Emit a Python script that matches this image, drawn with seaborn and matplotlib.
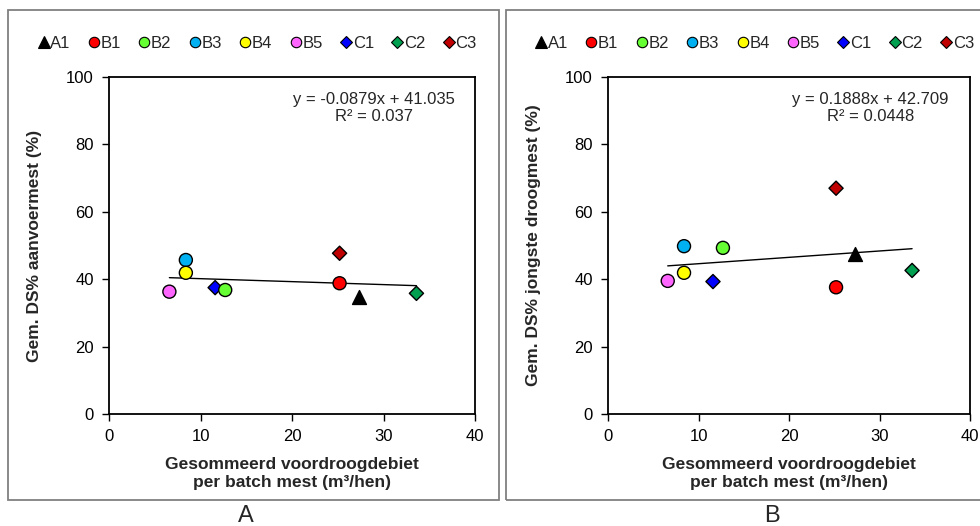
import numpy as np
import pandas as pd
import matplotlib.pyplot as plt
import seaborn as sns
from matplotlib.patches import Rectangle
from matplotlib.lines import Line2D

# data
batches = ['A1', 'B1', 'B2', 'B3', 'B4', 'B5', 'C1', 'C2', 'C3']
debiet = [27.3, 25.2, 12.7, 8.4, 8.4, 6.6, 11.6, 33.6, 25.2]
ds_aanvoer = [34.8, 38.8, 36.8, 45.7, 41.9, 36.3, 37.5, 35.8, 47.7]
ds_jongste = [47.6, 37.6, 49.3, 49.8, 41.9, 39.5, 39.3, 42.6, 67.0]

fit_a = (-0.0879, 41.035, 0.037)
fit_b = (0.1888, 42.709, 0.0448)

colors = {'A1': '#000000', 'B1': '#FF0000', 'B2': '#66FF33', 'B3': '#00B0F0',
          'B4': '#FFFF00', 'B5': '#FF66FF', 'C1': '#0000FF', 'C2': '#00A050',
          'C3': '#C00000'}
markers = {'A1': '^', 'B1': 'o', 'B2': 'o', 'B3': 'o', 'B4': 'o', 'B5': 'o',
           'C1': 'D', 'C2': 'D', 'C3': 'D'}
sizes = {'^': 100, 'o': 88, 'D': 52}
leg_sizes = {'^': 8.5, 'o': 7.5, 'D': 6}

df = pd.DataFrame({'batch': batches, 'debiet': debiet,
                   'aanvoer': ds_aanvoer, 'jongste': ds_jongste})
df['marker'] = df['batch'].map(markers)

sns.set_style('ticks')
plt.rcParams['font.family'] = ['Liberation Sans', 'DejaVu Sans']
plt.rcParams['font.size'] = 12

fig = plt.figure(figsize=(9.8, 5.26), dpi=100)

# grey frames around each panel
fig.patches.append(Rectangle((8 / 980, 1 - 500 / 526), 491 / 980, 490 / 526,
                             transform=fig.transFigure, fill=False,
                             edgecolor='#808080', linewidth=1.3))
fig.patches.append(Rectangle((506 / 980, 1 - 500 / 526), 480 / 980, 490 / 526,
                             transform=fig.transFigure, fill=False,
                             edgecolor='#808080', linewidth=1.3))

panels = [
    ([109 / 980, 1 - 414 / 526, 366 / 980, 337 / 526], 'aanvoer', fit_a,
     'Gem. DS% aanvoermest (%)', 'A', 246 / 980),
    ([608 / 980, 1 - 414 / 526, 362 / 980, 337 / 526], 'jongste', fit_b,
     'Gem. DS% jongste droogmest (%)', 'B', 772 / 980),
]

handles = [Line2D([], [], linestyle='none', marker=markers[b],
                  markerfacecolor=colors[b], markeredgecolor='black',
                  markeredgewidth=0.8, markersize=leg_sizes[markers[b]],
                  label=b) for b in batches]

for rect, col, fit, ylab, letter, lx in panels:
    ax = fig.add_axes(rect)
    for m, sub in df.groupby('marker'):
        sns.scatterplot(data=sub, x='debiet', y=col, hue='batch',
                        palette=colors, marker=m, s=sizes[m],
                        edgecolor='black', linewidth=1.0, ax=ax, zorder=3,
                        legend=False)
    xs = np.array([min(debiet), max(debiet)])
    ax.plot(xs, fit[0] * xs + fit[1], color='black', linewidth=1, zorder=2)
    ax.set_xlim(0, 40)
    ax.set_ylim(0, 100)
    ax.set_xticks([0, 10, 20, 30, 40])
    ax.set_yticks([0, 20, 40, 60, 80, 100])
    ax.tick_params(direction='out', length=5, width=1, labelsize=12,
                   colors='black')
    ax.tick_params(axis='x', pad=6)
    ax.tick_params(axis='y', pad=6)
    for sp in ax.spines.values():
        sp.set_color('black')
        sp.set_linewidth(1.3)
    ax.set_xlabel('Gesommeerd voordroogdebiet\nper batch mest (m³/hen)',
                  fontweight='bold', fontsize=12.5, labelpad=9,
                  linespacing=1.3)
    ax.set_ylabel(ylab, fontweight='bold', fontsize=12.5)
    ax.yaxis.set_label_coords(-0.184, 0.5)
    ax.text(0.725, 0.955, f'y = {fit[0]:.4f}x + {fit[1]:.3f}\nR² = {fit[2]}',
            transform=ax.transAxes, ha='center', va='top', fontsize=12,
            multialignment='center', linespacing=1.15)
    ax.legend(handles=handles, loc='center', bbox_to_anchor=(0.405, 1.1),
              ncol=9, frameon=False, handletextpad=0.05, handlelength=0.7,
              columnspacing=1.05, fontsize=12, borderaxespad=0)
    fig.text(lx, 1 - 516 / 526, letter, ha='center', va='center', fontsize=17)

fig.savefig('out.png', dpi=100)
